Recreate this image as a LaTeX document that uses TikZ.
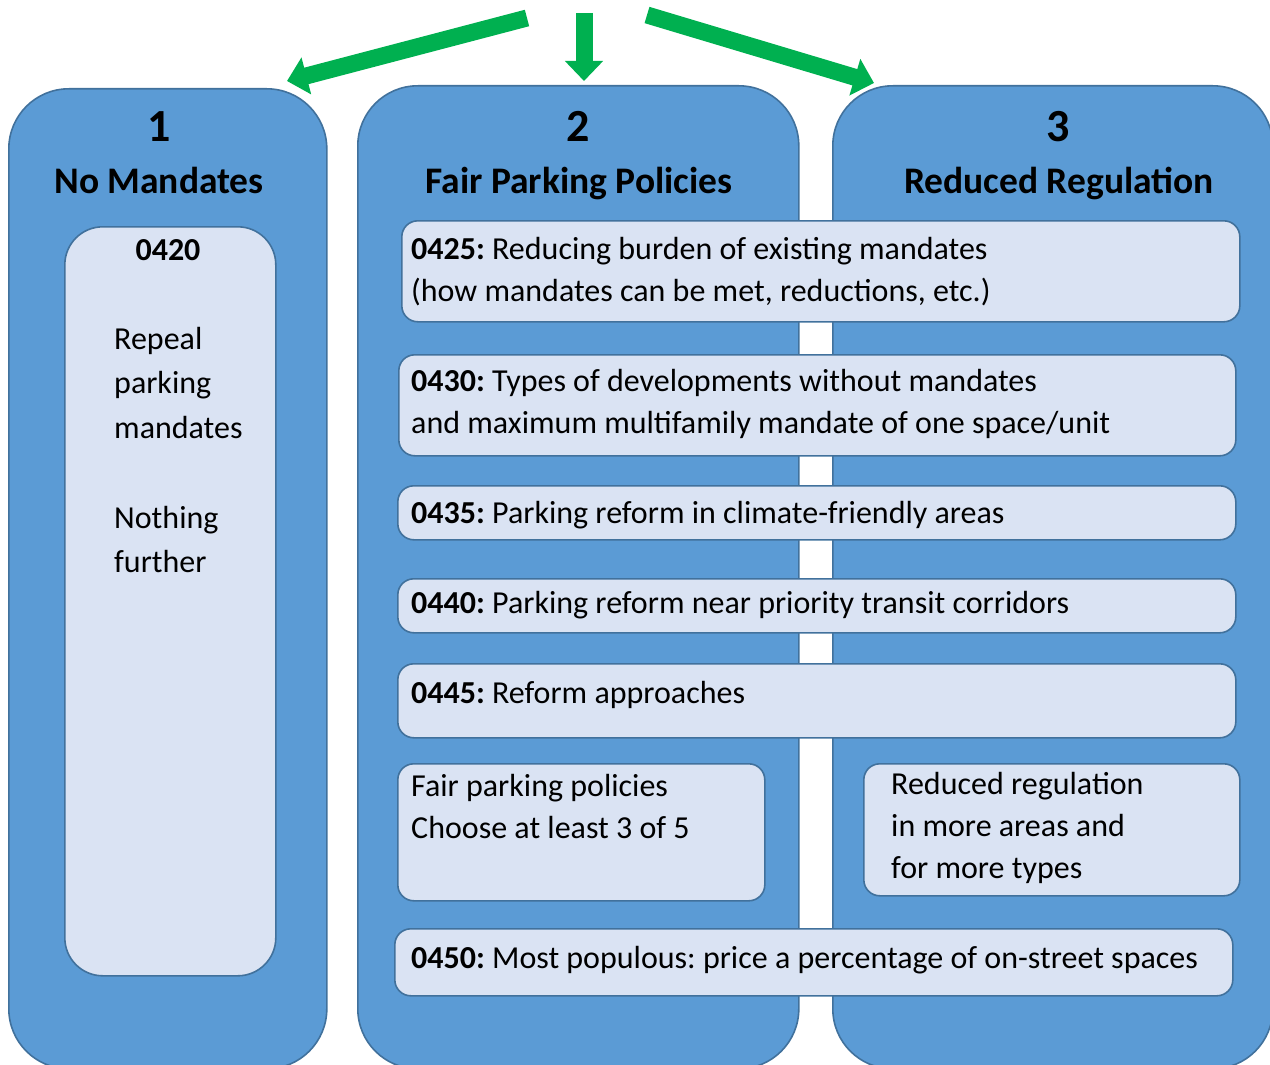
\documentclass[tikz,border=0pt]{standalone}
\usepackage{fontspec}
\setmainfont{Carlito}
\usetikzlibrary{arrows.meta}

\definecolor{colblue}{HTML}{5B9BD5}
\definecolor{colline}{HTML}{41719C}
\definecolor{boxfill}{HTML}{DAE3F3}
\definecolor{arrgreen}{HTML}{00B050}

\tikzset{
  column/.style={draw=colline, line width=1.6pt, fill=colblue, rounded corners=60pt, anchor=north west},
  itembox/.style={draw=colline, line width=1.6pt, fill=boxfill, rounded corners=16pt, anchor=north west},
  bodytext/.style={font=\fontsize{32}{42}\selectfont, align=left, inner sep=0pt},
  numtext/.style={font=\fontsize{46}{50}\selectfont\bfseries, inner sep=0pt, anchor=base},
  headtext/.style={font=\fontsize{37.5}{42}\selectfont\bfseries, inner sep=0pt, anchor=base},
  bigarrow/.style={draw=arrgreen, line width=17pt, -{Triangle[width=37pt,length=20pt]}}
}

\begin{document}
\frenchspacing
\begin{tikzpicture}[x=1pt,y=-1pt]
\useasboundingbox (0,0) rectangle (1270,1065);

% the three columns
\node[column, minimum width=318pt, minimum height=980pt] (col1) at (8,88) {};
\node[column, minimum width=441pt, minimum height=983pt] (col2) at (357,85) {};
\node[column, minimum width=440pt, minimum height=983pt] (col3) at (832,85) {};

\node[numtext] (num1) at (159,142) {1};
\node[headtext] (head1) at (159,193) {No Mandates};
\node[numtext] (num2) at (578,142) {2};
\node[headtext] (head2) at (579,193) {Fair Parking Policies};
\node[numtext] (num3) at (1058,142) {3};
\node[headtext] (head3) at (1059,193) {Reduced Regulation};

% green arrows from the title
\coordinate (tailA) at (527,18);
\coordinate (tipA) at (287,81);
\coordinate (tailB) at (584,13);
\coordinate (tipB) at (584,81);
\coordinate (tailC) at (647,15);
\coordinate (tipC) at (874,83);
\draw[bigarrow] (tailA) -- (tipA);
\draw[bigarrow] (tailB) -- (tipB);
\draw[bigarrow] (tailC) -- (tipC);

% option 1
\node[itembox, rounded corners=38pt, minimum width=211pt, minimum height=749pt] (b0420) at (64,226) {};
\node[bodytext, font=\fontsize{32}{42}\selectfont\bfseries] (t0420) at (168,250) {0420};
\node[bodytext, anchor=west, font=\fontsize{32}{44.7}\selectfont] (trepeal) at (114,450)
  {Repeal\\parking\\mandates\\[44.7pt]Nothing\\further};

% options 2 and 3
\node[itembox, minimum width=838pt, minimum height=101pt] (b0425) at (401,220) {};
\node[bodytext, anchor=west] (t0425) at (411,272)
  {\textbf{0425:} Reducing burden of existing mandates\\(how mandates can be met, reductions, etc.)};

\node[itembox, minimum width=837pt, minimum height=101pt] (b0430) at (398,354) {};
\node[bodytext, anchor=west] (t0430) at (411,404)
  {\textbf{0430:} Types of developments without mandates\\and maximum multifamily mandate of one space/unit};

\node[itembox, minimum width=838pt, minimum height=54pt] (b0435) at (397,485) {};
\node[bodytext, anchor=west] (t0435) at (411,515) {\textbf{0435:} Parking reform in climate-friendly areas};

\node[itembox, minimum width=838pt, minimum height=54pt] (b0440) at (397,578) {};
\node[bodytext, anchor=west] (t0440) at (411,605) {\textbf{0440:} Parking reform near priority transit corridors};

\node[itembox, minimum width=838pt, minimum height=74pt] (b0445) at (397,663) {};
\node[bodytext, anchor=west] (t0445) at (411,695) {\textbf{0445:} Reform approaches};

\node[itembox, minimum width=367pt, minimum height=137pt] (bfair) at (397,763) {};
\node[bodytext, anchor=west] (tfair) at (411,807) {Fair parking policies\\Choose at least 3 of 5};

\node[itembox, minimum width=376pt, minimum height=132pt] (bless) at (863,763) {};
\node[bodytext, anchor=west] (tless) at (891,828) {Reduced regulation\\in more areas and\\for more types};

\node[itembox, minimum width=838pt, minimum height=67pt] (b0450) at (394,928) {};
\node[bodytext, anchor=west] (t0450) at (411,960) {\textbf{0450:} Most populous: price a percentage of on-street spaces};
\end{tikzpicture}
\end{document}
